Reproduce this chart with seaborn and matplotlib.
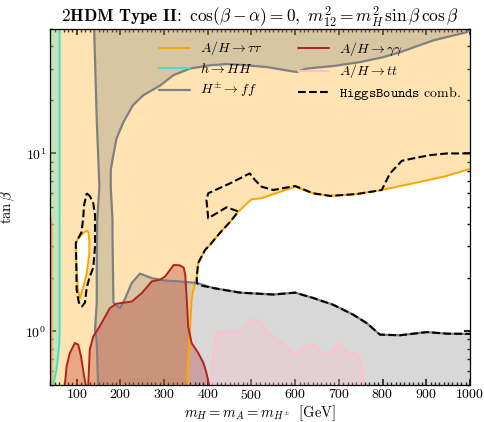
import matplotlib
matplotlib.use("Agg")
import matplotlib.pyplot as plt
from matplotlib.path import Path
from matplotlib.patches import PathPatch
from matplotlib.ticker import MultipleLocator, LogLocator, NullFormatter
import numpy as np
import seaborn as sns

# ---------------- exclusion boundaries in the (m_H, tan beta) plane ----------------
# A/H -> tau tau : edge of the allowed window (bottom -> right edge)
tautau_m = [353, 355, 359, 363, 367, 375, 378, 394, 405, 428, 451, 469, 500, 523,
            600, 641, 680, 741, 798, 870, 939, 1000]
tautau_tb = [0.5, 0.694, 0.983, 1.51, 1.71, 2.03, 2.42, 2.87, 3.06, 3.58, 4.12, 4.69,
             5.52, 5.6, 6.5, 5.97, 5.77, 5.91, 6.23, 6.79, 7.39, 8.17]
# A/H -> tau tau : small allowed island at low mass
tautau_hole_m = [98, 104, 111, 118, 124, 127, 129, 129, 126, 123, 116, 107.5, 103, 100, 98]
tautau_hole_tb = [3.13, 3.35, 3.48, 3.62, 3.67, 3.6, 3.2, 2.75, 2.4, 2.13, 1.8, 1.54,
                  1.71, 2.22, 3.13]
# A/H -> tau tau : low-mass edge
tautau_left_m = [42.5, 42.5, 40]
tautau_left_tb = [0.5, 4.0, 4.4]

# h -> HH
hHH_m = [61, 61, 61, 60, 57, 54, 48, 44.6]
hHH_tb = [50, 3.0, 1.02, 0.84, 0.71, 0.61, 0.52, 0.5]

# H+- -> ff : left edge of the excluded band
hpm_left_m = [140, 146, 149, 152, 147, 146, 146, 142, 146, 149]
hpm_left_tb = [50, 15.4, 10, 6.5, 4.23, 2.22, 1.45, 1.02, 0.864, 0.5]
# H+- -> ff : upper / right edge (top-right corner -> band -> right edge)
hpm_m = [1000, 992, 916, 840, 802, 748, 687, 626, 603, 580, 535, 474, 443, 405, 359,
         321, 291, 252, 229, 207, 191, 184, 178, 178, 182, 182, 184, 184, 199, 210,
         226, 245, 272, 302, 332, 375, 413, 474, 550, 600, 641, 687, 733, 764, 794,
         840, 901, 947, 1000]
hpm_tb = [49.1, 48.0, 43.2, 37.1, 34.8, 32.6, 31.0, 30.0, 28.7, 29.3, 30.6, 31.5, 31.8,
          31.3, 30.0, 27.5, 24.1, 21.2, 18.7, 15.0, 12.1, 9.8, 8.06, 6.5, 4.23, 3.41,
          1.57, 1.45, 1.35, 1.51, 1.87, 2.11, 1.99, 1.93, 1.91, 1.87, 1.75, 1.65, 1.61,
          1.65, 1.54, 1.41, 1.24, 1.11, 0.958, 0.95, 0.99, 0.97, 0.967]

# A/H -> gamma gamma : two excluded islands
gg1_m = [73, 77, 84.6, 96, 103.6, 110, 117, 120.5]
gg1_tb = [0.5, 0.637, 0.757, 0.86, 0.842, 0.724, 0.56, 0.5]
gg2_m = [126.5, 130, 138, 153, 176, 191, 226, 249, 272, 291, 302, 317, 322, 336, 345,
         348.5, 352, 355, 363, 378, 390, 397, 403]
gg2_tb = [0.5, 0.79, 0.937, 1.07, 1.35, 1.43, 1.47, 1.64, 1.91, 1.95, 2.03, 2.27, 2.36,
          2.35, 2.28, 2.08, 1.51, 1.07, 0.86, 0.757, 0.665, 0.584, 0.5]

# A/H -> tt
tt_m = [409, 413, 420, 443, 474, 485, 500, 519, 535, 565, 600, 626, 641, 661, 683, 699,
        721, 744, 752, 756]
tt_tb = [0.5, 0.79, 0.98, 1.0, 1.0, 1.07, 1.16, 1.16, 1.0, 0.88, 0.74, 0.824, 0.86,
         0.757, 0.74, 0.86, 0.757, 0.74, 0.665, 0.5]

# HiggsBounds combined limit
hb_m = [1000, 947, 908, 870, 844, 817, 798, 741, 680, 641, 600, 550, 523, 508, 496,
        451, 401, 397, 401, 443, 470, 451, 428, 405, 394, 378, 375, 375, 380, 413, 474,
        550, 600, 641, 687, 733, 764, 794, 840, 901, 947, 1000]
hb_tb = [10.0, 10.0, 9.78, 9.38, 9.09, 7.72, 6.23, 5.91, 5.77, 5.97, 6.56, 6.23, 6.5,
         7.09, 7.72, 6.79, 5.97, 5.47, 4.32, 4.98, 4.72, 4.12, 3.58, 3.06, 2.87, 2.42,
         2.03, 1.87, 1.82, 1.75, 1.65, 1.61, 1.65, 1.54, 1.41, 1.24, 1.11, 0.958, 0.95,
         0.99, 0.97, 0.967]
hb_loop_m = [123, 130, 138, 142, 142, 138, 130, 123, 119, 112, 105, 100, 99, 98, 111,
             115, 117, 123]
hb_loop_tb = [5.97, 5.77, 5.25, 4.51, 3.0, 2.28, 2.03, 1.76, 1.45, 1.38, 1.45, 1.71,
              2.52, 3.14, 3.6, 4.34, 5.13, 5.97]

M_MIN, M_MAX = 40, 1000
TB_MIN, TB_MAX = 0.5, 50

# ---------------- style ----------------
sns.set_theme(style="ticks")
plt.rcParams.update({
    "font.family": "serif",
    "font.serif": ["cmr10"],
    "mathtext.fontset": "cm",
    "axes.formatter.use_mathtext": True,
    "axes.unicode_minus": False,
    "axes.edgecolor": "black",
    "axes.linewidth": 0.9,
    "text.color": "black",
    "axes.labelcolor": "black",
    "xtick.color": "black",
    "ytick.color": "black",
    "xtick.direction": "in",
    "ytick.direction": "in",
    "xtick.top": True,
    "ytick.right": True,
    "xtick.minor.visible": True,
    "ytick.minor.visible": True,
    "xtick.major.size": 4.5,
    "ytick.major.size": 4.5,
    "xtick.minor.size": 2.2,
    "ytick.minor.size": 2.2,
    "xtick.major.pad": 2.5,
    "ytick.major.pad": 3,
})

fig = plt.figure(figsize=(4.85, 4.22), dpi=100)
ax = fig.add_axes([0.104, 0.088, 0.865, 0.843])
ax.set_yscale("log")
ax.set_xlim(M_MIN, M_MAX)
ax.set_ylim(TB_MIN, TB_MAX)

FILL_A = 0.3

# A/H -> tau tau excluded area (everything outside the allowed window and island)
outer = np.column_stack([
    [42.5] + tautau_m + [M_MAX, M_MIN, M_MIN, 42.5],
    [TB_MIN] + tautau_tb + [TB_MAX, TB_MAX, 4.4, 4.0],
])
hole = np.column_stack([tautau_hole_m, tautau_hole_tb])
verts = np.vstack([outer, outer[:1], hole, hole[:1]])
codes = ([Path.MOVETO] + [Path.LINETO] * (len(outer) - 1) + [Path.CLOSEPOLY]
         + [Path.MOVETO] + [Path.LINETO] * (len(hole) - 1) + [Path.CLOSEPOLY])
ax.add_patch(PathPatch(Path(verts, codes), facecolor="orange", alpha=FILL_A,
                       lw=0, zorder=1))

# h -> HH excluded area
ax.fill([M_MIN] + hHH_m + [M_MIN], [TB_MAX] + hHH_tb + [TB_MIN],
        color="turquoise", alpha=FILL_A, lw=0, zorder=1)

# H+- -> ff excluded area
ax.fill(hpm_left_m + [M_MAX] + hpm_m[::-1] + [M_MAX],
        hpm_left_tb + [TB_MIN] + hpm_tb[::-1] + [TB_MAX],
        color="grey", alpha=FILL_A, lw=0, zorder=1)

# A/H -> gamma gamma islands
ax.fill(gg1_m, gg1_tb, color="firebrick", alpha=FILL_A, lw=0, zorder=1)
ax.fill(gg2_m, gg2_tb, color="firebrick", alpha=FILL_A, lw=0, zorder=1)

# A/H -> tt
ax.fill(tt_m, tt_tb, color="pink", alpha=FILL_A, lw=0, zorder=1)

# ---------------- boundary lines ----------------
LW = 1.4
def edge(xs, ys, color, label=None, **kw):
    sns.lineplot(x=xs, y=ys, sort=False, estimator=None, color=color, lw=kw.pop("lw", LW),
                 ax=ax, label=label, legend=False, **kw)

edge(tautau_m, tautau_tb, "orange", label=r"$A/H \to \tau\tau$")
edge(tautau_hole_m, tautau_hole_tb, "orange")
edge(tautau_left_m, tautau_left_tb, "orange")
edge(hHH_m, hHH_tb, "turquoise", label=r"$h \to HH$")
edge(hpm_left_m, hpm_left_tb, "grey", label=r"$H^{\pm} \to ff$", lw=1.6)
edge(hpm_m, hpm_tb, "grey", lw=1.6)
edge(gg1_m, gg1_tb, "firebrick", label=r"$A/H \to \gamma\gamma$")
edge(gg2_m, gg2_tb, "firebrick")
edge(tt_m, tt_tb, "pink", label=r"$A/H \to tt$")
edge(hb_m, hb_tb, "black", label=r"$\mathtt{HiggsBounds}$ comb.", lw=1.5,
     linestyle="--", zorder=3)
edge(hb_loop_m, hb_loop_tb, "black", lw=1.5, linestyle="--", zorder=3)

# ---------------- axes ----------------
ax.xaxis.set_major_locator(MultipleLocator(100))
ax.xaxis.set_minor_locator(MultipleLocator(10))
ax.yaxis.set_major_locator(LogLocator(base=10))
ax.yaxis.set_minor_locator(LogLocator(base=10, subs=np.arange(2, 10)))
ax.yaxis.set_minor_formatter(NullFormatter())
ax.tick_params(labelsize=10)

ax.set_xlabel(r"$m_H = m_A = m_{H^{\pm}}\ \ \mathrm{[GeV]}$", fontsize=10.5, labelpad=1)
ax.set_ylabel(r"$\tan\beta$", fontsize=10.5, labelpad=6)
ax.set_title(r"$\mathbf{2HDM\ Type\ II\!:}\ \cos(\beta-\alpha)=0,\ m_{12}^2=m_H^2\,\sin\beta\,\cos\beta$",
             fontsize=12.5, pad=5)

handles, labels = ax.get_legend_handles_labels()
order = [r"$A/H \to \tau\tau$", r"$h \to HH$", r"$H^{\pm} \to ff$",
         r"$A/H \to \gamma\gamma$", r"$A/H \to tt$", r"$\mathtt{HiggsBounds}$ comb."]
lookup = dict(zip(labels, handles))
ax.legend([lookup[k] for k in order], order, ncol=2, frameon=False, loc="upper left",
          bbox_to_anchor=(0.23, 1.006), fontsize=10, handlelength=2.2,
          columnspacing=2.5, labelspacing=0.35, handletextpad=0.75)

fig.savefig("out.png", dpi=100)
